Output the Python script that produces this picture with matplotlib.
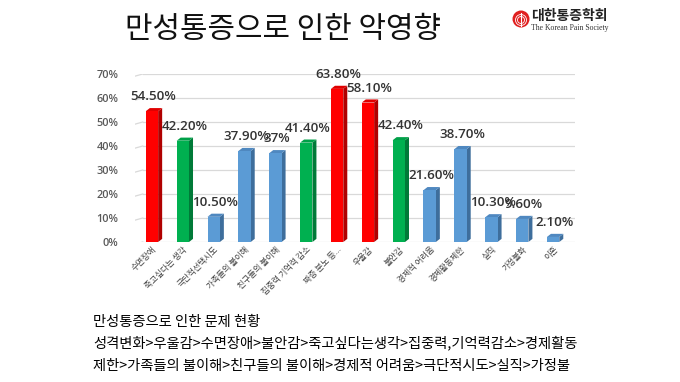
import matplotlib
matplotlib.use("Agg")
import matplotlib.pyplot as plt
from matplotlib.patches import Ellipse, Polygon

plt.rcParams['font.family'] = ['Noto Sans CJK KR', 'DejaVu Sans']

categories = ['수면장애', '죽고싶다는 생각', '극단적선택시도', '가족들의 불이해', '친구들의 불이해',
              '집중력 기억력 감소', '짜증 분노 등...', '우울감', '불안감', '경제적 어려움',
              '경제활동제한', '실직', '가정불화', '이혼']
values = [54.5, 42.2, 10.5, 37.9, 37.0, 41.4, 63.8, 58.1, 42.4, 21.6, 38.7, 10.3, 9.6, 2.1]
labels = ['54.50%', '42.20%', '10.50%', '37.90%', '37%', '41.40%', '63.80%', '58.10%',
          '42.40%', '21.60%', '38.70%', '10.30%', '9.60%', '2.10%']
groups = ['r', 'g', 'b', 'b', 'b', 'g', 'r', 'r', 'g', 'b', 'b', 'b', 'b', 'b']
yticks = [0, 10, 20, 30, 40, 50, 60, 70]

front = {'r': '#FF0000', 'g': '#00B050', 'b': '#5B9BD5'}
side = {'r': '#B00000', 'g': '#007A38', 'b': '#3E6E9C'}
top = {'r': '#E00000', 'g': '#00A048', 'b': '#4F88C0'}

fig = plt.figure(figsize=(6.8, 3.82), dpi=100)
ax = fig.add_axes([135/680, 140/382, 440/680, 168/382])
ax.set_xlim(-0.55, 13.71)
ax.set_ylim(0, 70)

for t in yticks:
    ax.plot([-0.3, 13.71], [t, t], color='#D9D9D9', lw=0.9, zorder=0)
    ax.plot([-0.55, -0.3], [t - 0.9, t], color='#D9D9D9', lw=0.9, zorder=0)

w = 0.40
dx = 0.13
dy = 1.3
for i, (v, g) in enumerate(zip(values, groups)):
    x0 = i - w / 2
    x1 = i + w / 2
    ax.add_patch(Polygon([(x1, 0), (x1 + dx, dy), (x1 + dx, v + dy), (x1, v)],
                         closed=True, facecolor=side[g], edgecolor='none', zorder=2))
    ax.add_patch(Polygon([(x0, v), (x1, v), (x1 + dx, v + dy), (x0 + dx, v + dy)],
                         closed=True, facecolor=top[g], edgecolor='none', zorder=2))
    ax.bar(i, v, width=w, color=front[g], zorder=3)
    ax.text(i + 0.05, v + dy + 2.0, labels[i], ha='center', va='bottom', fontsize=9.6,
            color='#333333', fontweight='semibold', zorder=5,
            family=['Open Sans', 'DejaVu Sans'])

ax.set_yticks(yticks)
ax.set_yticklabels([f'{t}%' for t in yticks], fontsize=7.8, color='#595959',
                   fontweight='semibold', family=['Open Sans', 'DejaVu Sans'])
ax.set_xticks(range(len(categories)))
ax.set_xticklabels(categories, rotation=45, ha='right', rotation_mode='anchor',
                   fontsize=6, color='#404040')
ax.tick_params(axis='both', length=0, pad=2)
ax.tick_params(axis='y', pad=12)
for s in ax.spines.values():
    s.set_visible(False)

fig.text(125/680, 1 - 30/382, '만성통증으로 인한 악영향', fontsize=21.5, color='#111111',
         va='center', ha='left')

# logo
cx, cy = 521, 19
fig.patches.append(Ellipse((cx/680, 1 - cy/382), 17/680, 17/382, transform=fig.transFigure,
                           facecolor='#E02020', edgecolor='none'))
for r in (3.5, 5.5):
    fig.patches.append(Ellipse((cx/680, 1 - (cy + 1)/382), 2*r/680, 2*r/382,
                               transform=fig.transFigure, facecolor='none',
                               edgecolor='white', lw=0.6))
fig.lines.append(plt.Line2D([cx/680, cx/680], [1 - (cy - 6)/382, 1 - (cy + 7)/382],
                            transform=fig.transFigure, color='white', lw=0.8))
fig.text(531/680, 1 - 16/382, '대한통증학회', fontsize=10, fontweight='bold', color='#222222',
         va='center', ha='left')
fig.text(531/680, 1 - 28/382, 'The Korean Pain Society', fontsize=5.6, color='#333333',
         va='center', ha='left', family=['Liberation Serif', 'DejaVu Serif'])

fig.text(93/680, 1 - 322/382, '만성통증으로 인한 문제 현황', fontsize=10.3, color='#000000',
         va='center', ha='left')
fig.text(93/680, 1 - 343/382, '성격변화>우울감>수면장애>불안감>죽고싶다는생각>집중력,기억력감소>경제활동',
         fontsize=10.3, color='#000000', va='center', ha='left')
fig.text(93/680, 1 - 366/382, '제한>가족들의 불이해>친구들의 불이해>경제적 어려움>극단적시도>실직>가정불',
         fontsize=10.3, color='#000000', va='center', ha='left')

fig.savefig('out.png', dpi=100, facecolor='white')
